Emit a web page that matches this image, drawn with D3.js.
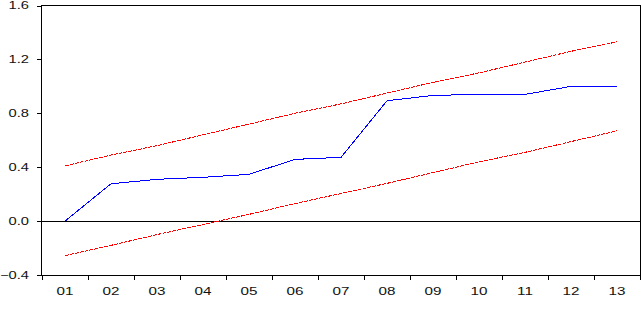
<!DOCTYPE html>
<meta charset="utf-8">
<style>
body {margin: 0; background: white;}
.frame {fill: none; stroke: black; stroke-width: 1px; shape-rendering: crispEdges;}
.tick line, .zero {stroke: black; stroke-width: 1px; shape-rendering: crispEdges;}
.lbl {font-family: "Liberation Sans", Arial, sans-serif; font-size: 10.5px; fill: #111;}
.cusum {fill: none; stroke: #0000ff; stroke-width: 1px; shape-rendering: crispEdges;}
.bound {fill: none; stroke: #ff0000; stroke-width: 1px; stroke-dasharray: 4,1; shape-rendering: crispEdges;}
</style>
<body>
<script src="https://d3js.org/d3.v7.min.js"></script>
<script>
var width = 641, height = 334
var periods = ["01","02","03","04","05","06","07","08","09","10","11","12","13"]
var cusumSq = [0.0, 0.277, 0.31, 0.325, 0.347, 0.458, 0.473, 0.893, 0.933, 0.94, 0.94, 1.0, 1.0]
var upper = [0.41, 0.49, 0.56, 0.64, 0.72, 0.80, 0.87, 0.95, 1.03, 1.10, 1.18, 1.26, 1.33]
var lower = [-0.256, -0.18, -0.10, -0.025, 0.05, 0.13, 0.205, 0.28, 0.36, 0.44, 0.51, 0.59, 0.67]
var yTicks = [-0.4, 0.0, 0.4, 0.8, 1.2, 1.6]

var mLeft = 41.5, mRight = 640, mTop = 5.5, mBottom = 275
var x = d3.scaleBand().domain(periods).range([42, 640])
var y = d3.scaleLinear().domain([-0.4, 1.6]).range([mBottom, mTop])
var svg = d3.select("body").append("svg")
  .attr("width", width).attr("height", height)

// frame + zero line
svg.append("rect").attr("class", "frame")
  .attr("x", mLeft).attr("y", mTop).attr("width", mRight - mLeft).attr("height", mBottom - mTop)
svg.append("line").attr("class", "zero")
  .attr("x1", mLeft).attr("x2", mRight).attr("y1", Math.round(y(0)) + 0.5).attr("y2", Math.round(y(0)) + 0.5)

// y ticks
var yg = svg.append("g")
yg.selectAll("line").data(yTicks).enter().append("line")
  .attr("class", "zero")
  .attr("x1", mLeft - 5).attr("x2", mLeft)
  .attr("y1", function(d) { return Math.round(y(d)) + 0.5 })
  .attr("y2", function(d) { return Math.round(y(d)) + 0.5 })
yg.selectAll("text").data(yTicks).enter().append("text")
  .attr("class", "lbl")
  .attr("text-anchor", "end").attr("dy", "0.36em")
  .attr("transform", function(d) { return "translate(29," + y(d) + ") scale(1.4,1)" })
  .text(function(d) { return d3.format(".1f")(d) })

// x ticks at band edges
var edges = periods.map(function(p) { return x(p) }).concat([x.range()[1]])
var xg = svg.append("g")
xg.selectAll("line").data(edges).enter().append("line")
  .attr("class", "zero")
  .attr("x1", function(d) { return Math.round(d) + 0.5 }).attr("x2", function(d) { return Math.round(d) + 0.5 })
  .attr("y1", mBottom).attr("y2", mBottom + 5)
xg.selectAll("text").data(periods).enter().append("text")
  .attr("class", "lbl")
  .attr("text-anchor", "middle")
  .attr("transform", function(d) { return "translate(" + (x(d) + x.bandwidth() / 2) + "," + 295 + ") scale(1.45,1)" })
  .text(function(d) { return d })

var line = d3.line()
  .x(function(d, i) { return x(periods[i]) + x.bandwidth() / 2 })
  .y(function(d) { return y(d) })

svg.append("path").datum(upper).attr("class", "bound").attr("d", line)
svg.append("path").datum(lower).attr("class", "bound").attr("d", line)
svg.append("path").datum(cusumSq).attr("class", "cusum").attr("d", line)
</script>
